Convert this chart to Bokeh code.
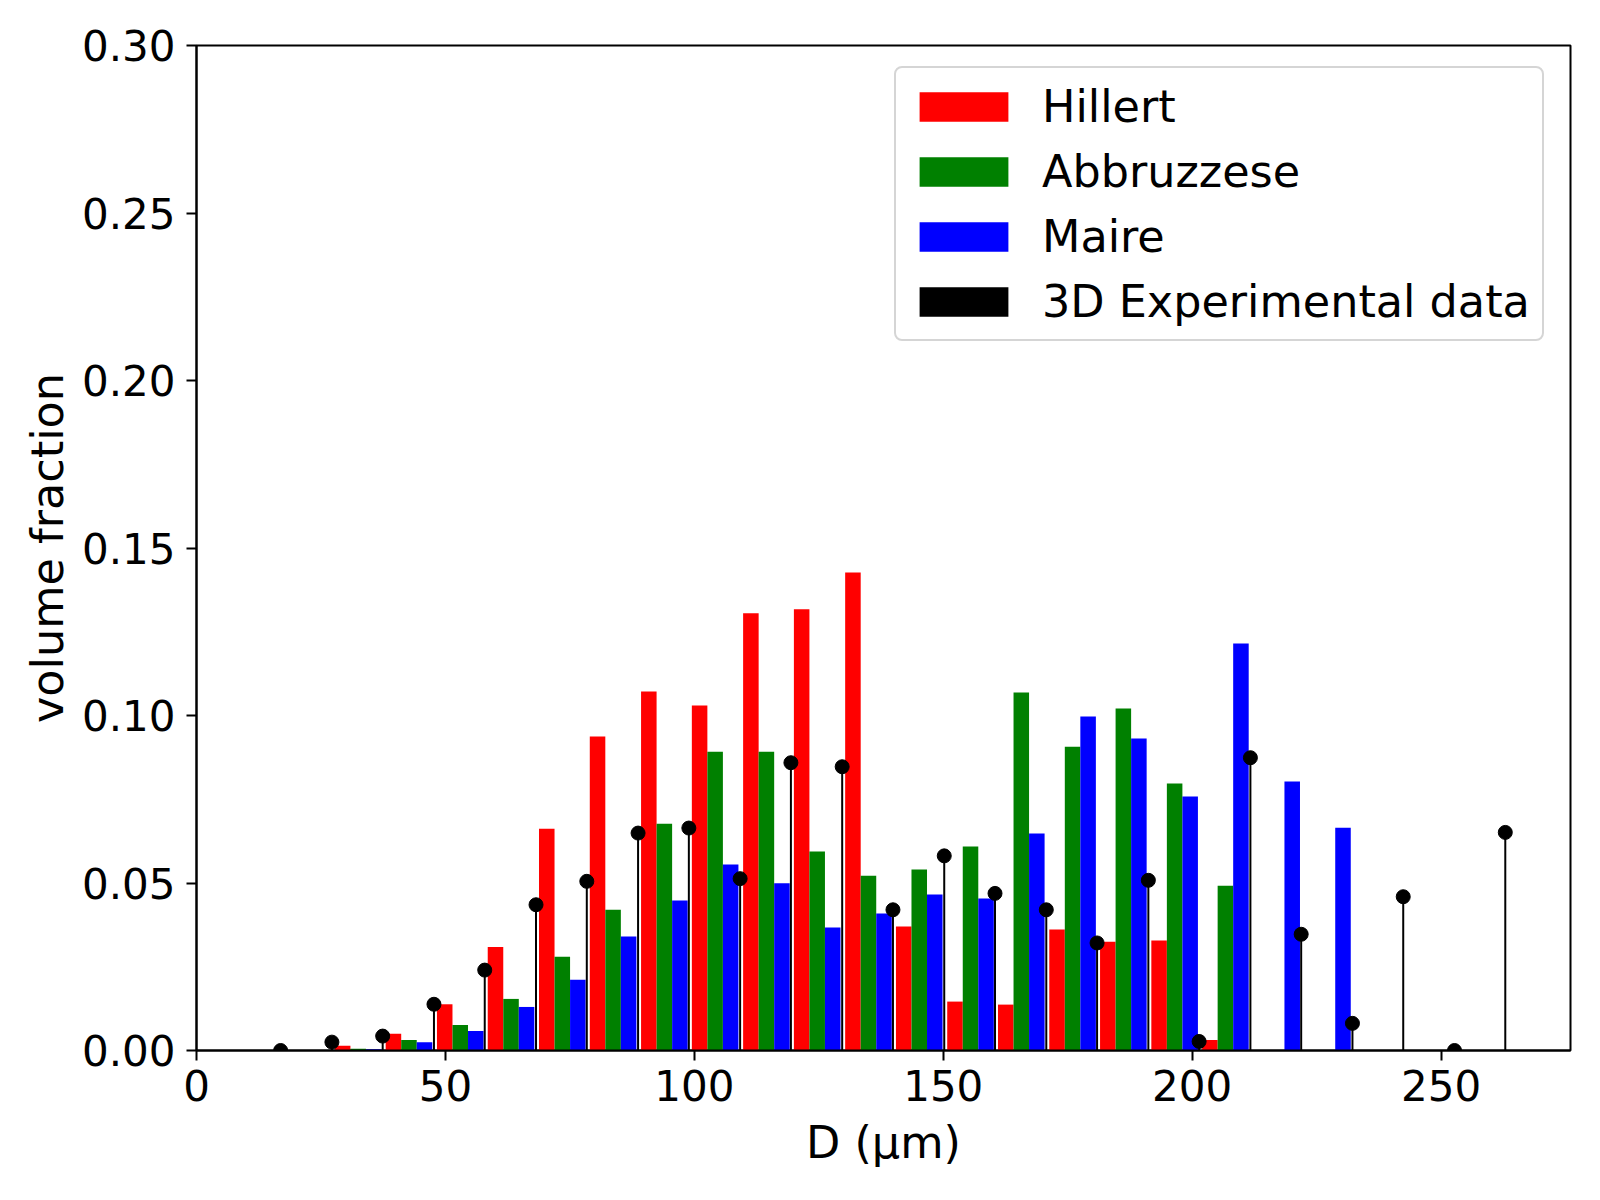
import numpy as np
from bokeh.plotting import figure
from bokeh.models import Range1d, FixedTicker, PrintfTickFormatter, Legend, LegendItem
from bokeh.embed import file_html
from bokeh.resources import INLINE

# ---- data ----
D = [16.9, 27.2, 37.4, 47.7, 57.9, 68.2, 78.4, 88.7, 98.9, 109.2, 119.4, 129.7,
     139.9, 150.2, 160.4, 170.7, 180.9, 191.2, 201.4, 211.7, 221.9, 232.2, 242.4,
     252.7, 262.9]
hillert = [0.0, 0.0014, 0.0050, 0.0138, 0.0309, 0.0662, 0.0937, 0.1072, 0.1030,
           0.1305, 0.1317, 0.1427, 0.0370, 0.0146, 0.0137, 0.0361, 0.0325, 0.0328,
           0.0031, 0.0, 0.0, 0.0, 0.0, 0.0, 0.0]
abbruzzese = [0.0, 0.0005, 0.0031, 0.0076, 0.0154, 0.0280, 0.0420, 0.0677, 0.0892,
              0.0892, 0.0594, 0.0522, 0.0540, 0.0609, 0.1069, 0.0907, 0.1021, 0.0797,
              0.0492, 0.0, 0.0, 0.0, 0.0, 0.0, 0.0]
maire = [0.0, 0.0004, 0.0025, 0.0058, 0.0130, 0.0211, 0.0340, 0.0448, 0.0555,
         0.0499, 0.0367, 0.0409, 0.0466, 0.0454, 0.0648, 0.0997, 0.0931, 0.0758,
         0.1215, 0.0803, 0.0665, 0.0, 0.0, 0.0, 0.0]
experimental = [0.0, 0.0025, 0.0043, 0.0138, 0.0240, 0.0435, 0.0505, 0.0649, 0.0664,
                0.0513, 0.0859, 0.0847, 0.0420, 0.0581, 0.0469, 0.0420, 0.0321, 0.0508,
                0.0027, 0.0874, 0.0347, 0.0081, 0.0459, 0.0, 0.0651]
series_names = ["Hillert", "Abbruzzese", "Maire", "3D Experimental data"]
x_ticks = [0, 50, 100, 150, 200, 250]
y_ticks = [0.0, 0.05, 0.10, 0.15, 0.20, 0.25, 0.30]

FONT = "DejaVu Sans"
FS = "42px"
FS_LABEL = "44.5px"

p = figure(width=1584, height=1184, output_backend="svg", toolbar_location=None,
           x_range=Range1d(0, 276), y_range=Range1d(0, 0.30),
           min_border_left=196, min_border_right=14, min_border_top=45,
           min_border_bottom=134)
p.background_fill_color = "white"
p.border_fill_color = "white"
p.xgrid.visible = False
p.ygrid.visible = False
p.outline_line_color = "black"
p.outline_line_width = 2
p.outline_line_alpha = 1

d = np.array(D)
bw = 3.12
start = 0.6
r_h = p.vbar(x=d + start + 0.5 * bw, top=hillert, width=bw, fill_color="#ff0000", line_color=None)
r_a = p.vbar(x=d + start + 1.5 * bw, top=abbruzzese, width=bw, fill_color="#008000", line_color=None)
r_m = p.vbar(x=d + start + 2.5 * bw, top=maire, width=bw, fill_color="#0000ff", line_color=None)
# zero-width bars: invisible on the plot, give the black legend patch
r_e = p.vbar(x=d, top=experimental, width=0, fill_color="black", line_color=None)

p.segment(x0=d, y0=np.zeros(len(D)), x1=d, y1=experimental, line_color="black", line_width=2)
p.scatter(x=d, y=experimental, size=14, fill_color="black", line_color="black")

for ax in (p.xaxis, p.yaxis):
    ax.axis_line_width = 2
    ax.axis_line_color = "black"
    ax.major_tick_line_width = 2
    ax.major_tick_out = 10
    ax.major_tick_in = 0
    ax.minor_tick_line_color = None
    ax.major_label_text_font = FONT
    ax.major_label_text_font_size = FS
    ax.major_label_text_color = "black"
    ax.axis_label_text_font = FONT
    ax.axis_label_text_font_size = FS_LABEL
    ax.axis_label_text_font_style = "normal"
    ax.axis_label_text_color = "black"

p.xaxis.ticker = FixedTicker(ticks=x_ticks)
p.yaxis.ticker = FixedTicker(ticks=y_ticks)
p.yaxis.formatter = PrintfTickFormatter(format="%.2f")
p.xaxis.axis_label = "D (μm)"
p.yaxis.axis_label = "volume fraction"
p.xaxis.major_label_standoff = 9
p.yaxis.major_label_standoff = 11
p.xaxis.axis_label_standoff = 13
p.yaxis.axis_label_standoff = 6

legend = Legend(
    items=[LegendItem(label=series_names[0], renderers=[r_h]),
           LegendItem(label=series_names[1], renderers=[r_a]),
           LegendItem(label=series_names[2], renderers=[r_m]),
           LegendItem(label=series_names[3], renderers=[r_e])],
    location=(698, 709),
    label_text_font=FONT, label_text_font_size=FS_LABEL, label_text_color="black",
    glyph_width=111, glyph_height=37, label_height=52, spacing=13, padding=12,
    label_standoff=23, margin=0,
    border_line_color="#d5d5d5", border_line_width=2, border_line_alpha=1,
    background_fill_color="white", background_fill_alpha=1,
)
if "border_radius" in Legend.properties():
    legend.border_radius = 8
p.add_layout(legend, "center")

open("out.html", "w").write(file_html(p, INLINE))
